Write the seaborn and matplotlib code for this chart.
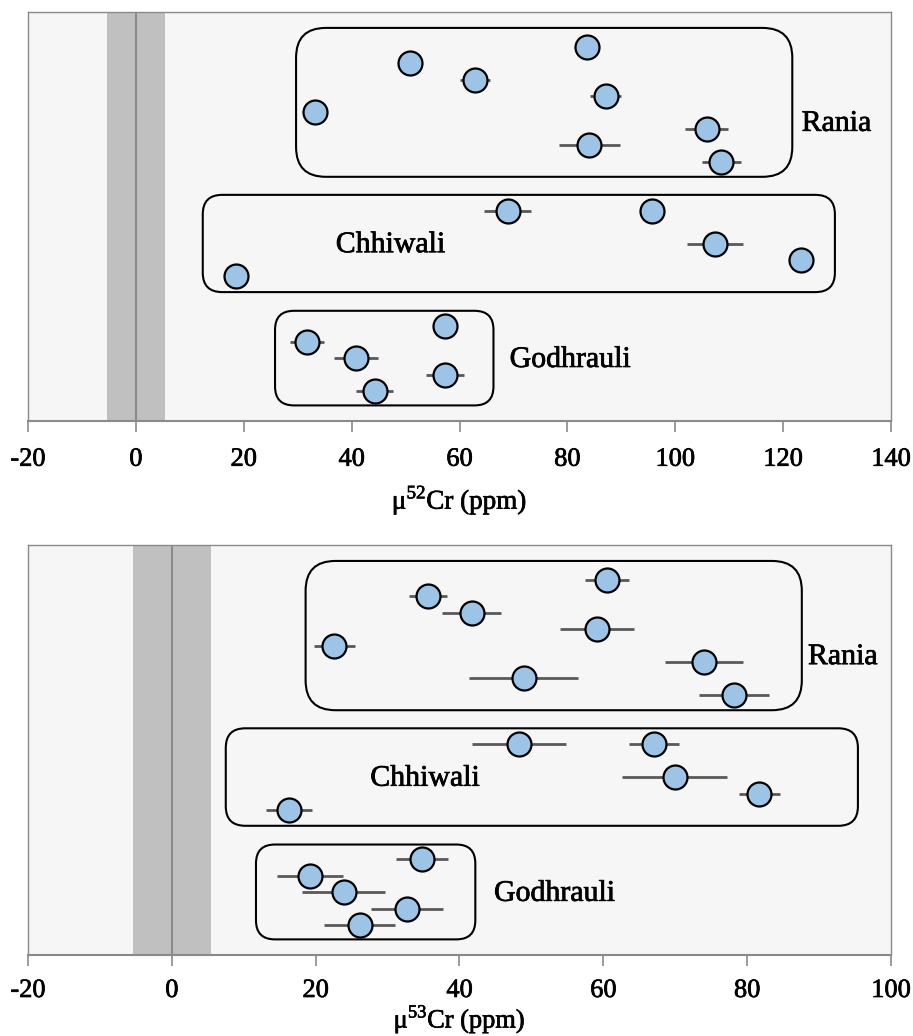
import numpy as np
import pandas as pd
import matplotlib
matplotlib.use("Agg")
import matplotlib.pyplot as plt
import matplotlib.patheffects as pe
import seaborn as sns
from matplotlib.patches import FancyBboxPatch

# ---------------- data ----------------
groups = ["Rania"] * 8 + ["Chhiwali"] * 5 + ["Godhrauli"] * 5
rows = [2, 3, 4, 5, 6, 7, 8, 9, 12, 12, 14, 15, 16, 19, 20, 21, 22, 23]
cr52 = [83.6, 50.9, 62.8, 87.1, 33.2, 105.8, 84.1, 108.5,
        68.9, 95.7, 107.4, 123.3, 18.6,
        57.4, 31.7, 40.8, 57.3, 44.3]
cr52_err = [1.5, 1.5, 2.8, 2.9, 1.5, 3.9, 5.7, 3.6,
            4.4, 1.8, 5.2, 1.8, 1.5,
            1.5, 3.2, 4.0, 3.6, 3.4]
cr53 = [60.5, 35.6, 41.7, 59.1, 22.6, 74.0, 48.9, 78.2,
        48.3, 67.0, 69.9, 81.7, 16.3,
        34.8, 19.2, 23.9, 32.7, 26.1]
cr53_err = [3.1, 2.6, 4.1, 5.1, 2.9, 5.4, 7.6, 4.9,
            6.5, 3.5, 7.3, 2.8, 3.2,
            3.6, 4.6, 5.8, 5.0, 4.9]

group_names = ["Rania", "Chhiwali", "Godhrauli"]
box_rows = [(0.85, 9.93), (11.03, 16.96), (18.1, 23.87)]
box_x52 = [(29.7, 121.7), (12.4, 129.6), (25.8, 66.3)]
box_x53 = [(18.6, 87.6), (7.5, 95.4), (11.7, 42.2)]
label_rows = [6.7, 14.1, 21.1]
label_x52 = [129.9, 47.2, 80.5]
label_x53 = [93.3, 35.2, 53.2]
ticks52 = [-20, 0, 20, 40, 60, 80, 100, 120, 140]
ticks53 = [-20, 0, 20, 40, 60, 80, 100]
terr_band = 5.4

df = pd.DataFrame({"group": groups, "row": rows, "cr52": cr52, "e52": cr52_err,
                   "cr53": cr53, "e53": cr53_err})

# ---------------- style ----------------
sns.set_style("white")
plt.rcParams["font.family"] = ["Liberation Serif", "DejaVu Serif"]
plt.rcParams["mathtext.fontset"] = "custom"
plt.rcParams["mathtext.rm"] = "Liberation Serif"
plt.rcParams["text.color"] = "black"
plt.rcParams["xtick.color"] = "black"
plt.rcParams["axes.labelcolor"] = "black"

W, H, DPI = 913, 1036, 100
fig = plt.figure(figsize=(W / DPI, H / DPI), dpi=DPI)
fig.patch.set_facecolor("white")

ax1 = fig.add_axes([28 / W, 1 - 421 / H, 863 / W, 409 / H])
ax2 = fig.add_axes([28 / W, 1 - 955 / H, 863 / W, 410 / H])

YLIM = (24.82, -0.12)
thick = [pe.withStroke(linewidth=0.5, foreground="black")]


def panel(ax, xcol, ecol, ticks, box_x, label_x, xlabel, labelpad, tpad, xfs):
    ax.set_facecolor("#f6f6f6")
    ax.set_xlim(ticks[0], ticks[-1])
    ax.set_ylim(*YLIM)
    ax.axvspan(-terr_band, terr_band, color="#c0c0c0", zorder=0.5, lw=0)
    ax.axvline(0, color="#8a8a8a", lw=1.5, zorder=0.6)

    ax.errorbar(df[xcol], df["row"], xerr=df[ecol], fmt="none",
                ecolor="#595959", elinewidth=2, capsize=0, zorder=2)
    sns.scatterplot(data=df, x=xcol, y="row", ax=ax, s=298,
                    color="#9dc3e6", edgecolor="black", linewidth=1.6,
                    zorder=3, legend=False)

    # rounded boxes (equal pixel corner radius)
    bb = ax.get_window_extent()
    sx = bb.width / (ticks[-1] - ticks[0])
    sy = bb.height / abs(YLIM[0] - YLIM[1])
    ma = sx / sy
    for (x0, x1), (r0, r1) in zip(box_x, box_rows):
        hpx = (r1 - r0) * sy
        rad = 0.2 * hpx / sx
        p = FancyBboxPatch((x0, r0), x1 - x0, r1 - r0,
                           boxstyle=f"round,pad=0,rounding_size={rad}",
                           mutation_aspect=ma, transform=ax.transData,
                           fc="none", ec="black", lw=1.5, zorder=1.5)
        ax.add_patch(p)
    for name, lx, ly in zip(group_names, label_x, label_rows):
        ax.text(lx, ly, name, ha="center", va="center", fontsize=21.5,
                color="black", path_effects=thick)

    ax.set_xticks(ticks)
    ax.set_xticklabels([str(t) for t in ticks], fontsize=19)
    for t in ax.get_xticklabels():
        t.set_path_effects(thick)
    ax.set_yticks([])
    ax.set_ylabel("")
    ax.set_xlabel(xlabel, fontsize=xfs, labelpad=labelpad)
    ax.xaxis.label.set_path_effects(thick)
    ax.tick_params(axis="x", direction="out", length=8, width=1.2, color="#8a8a8a",
                   pad=tpad, bottom=True)
    for side in ["left", "right", "top"]:
        ax.spines[side].set_color("#8a8a8a")
        ax.spines[side].set_linewidth(1.0)
    ax.spines["bottom"].set_color("#8a8a8a")
    ax.spines["bottom"].set_linewidth(1.5)


panel(ax1, "cr52", "e52", ticks52, box_x52, label_x52,
      "μ$^{\\mathregular{52}}$Cr (ppm)", 9, 12, 19.5)
panel(ax2, "cr53", "e53", ticks53, box_x53, label_x53,
      "μ$^{\\mathregular{53}}$Cr (ppm)", 0.5, 10, 19)

fig.savefig("out.png", dpi=DPI)
